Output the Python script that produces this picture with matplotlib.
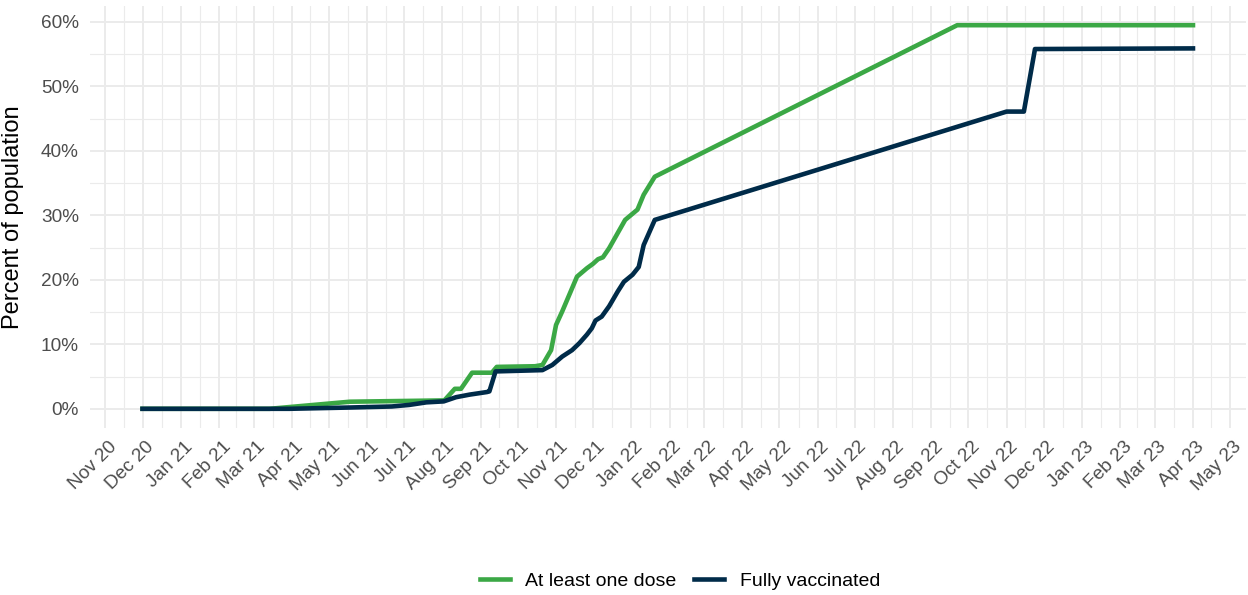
import pandas as pd
import numpy as np
import matplotlib.pyplot as plt
import matplotlib.dates as mdates
import matplotlib.transforms as mtransforms
from matplotlib.ticker import FixedLocator, FuncFormatter

plt.rcParams['font.family'] = ['Liberation Sans', 'DejaVu Sans']

# ----------------- Data -----------------
one_dose_dates = ["2020-12-01", "2021-03-14", "2021-05-18", "2021-08-02", "2021-08-03",
                  "2021-08-11", "2021-08-16", "2021-08-25", "2021-09-10", "2021-09-14",
                  "2021-10-15", "2021-10-21", "2021-10-28", "2021-11-01", "2021-11-06",
                  "2021-11-18", "2021-11-26", "2021-12-01", "2021-12-05", "2021-12-09",
                  "2021-12-14", "2021-12-27", "2022-01-06", "2022-01-11", "2022-01-20",
                  "2022-09-22", "2023-04-01"]
one_dose_pct = [0.0, 0.0, 1.1, 1.3, 1.4,
                3.1, 3.1, 5.6, 5.6, 6.5,
                6.6, 6.8, 9.1, 13.0, 15.1,
                20.5, 21.8, 22.5, 23.2, 23.5,
                24.9, 29.3, 30.9, 33.2, 36.0,
                59.5, 59.5]

full_dates = ["2020-12-01", "2021-03-30", "2021-05-18", "2021-06-21", "2021-07-05",
              "2021-07-19", "2021-08-02", "2021-08-12", "2021-08-23", "2021-09-06",
              "2021-09-08", "2021-09-13", "2021-10-21", "2021-10-23", "2021-10-29",
              "2021-11-06", "2021-11-14", "2021-11-20", "2021-11-26", "2021-11-30",
              "2021-12-03", "2021-12-08", "2021-12-14", "2021-12-21", "2021-12-26",
              "2022-01-02", "2022-01-07", "2022-01-11", "2022-01-20", "2022-11-01",
              "2022-11-15", "2022-11-24", "2023-04-01"]
full_pct = [0.0, 0.0, 0.2, 0.36, 0.6,
            1.0, 1.15, 1.8, 2.2, 2.6,
            2.7, 5.8, 6.0, 6.2, 6.8,
            8.1, 9.1, 10.2, 11.5, 12.5,
            13.7, 14.3, 15.9, 18.2, 19.7,
            20.8, 22.0, 25.4, 29.3, 46.1,
            46.1, 55.8, 55.9]

series_labels = ["At least one dose", "Fully vaccinated"]
series_colors = ["#3BA845", "#002B49"]

# ----------------- Plot -----------------
d1 = pd.to_datetime(one_dose_dates)
d2 = pd.to_datetime(full_dates)

fig = plt.figure(figsize=(12.48, 5.95), dpi=100)
ax = fig.add_axes([0.0721, 0.2807, 0.9259, 0.7092])

ax.plot(d1, one_dose_pct, color=series_colors[0], linewidth=3.3, label=series_labels[0],
        solid_joinstyle='round', zorder=3)
ax.plot(d2, full_pct, color=series_colors[1], linewidth=3.3, label=series_labels[1],
        solid_joinstyle='round', zorder=3)

# ggplot-like 5% expansion
xmin, xmax = min(d1.min(), d2.min()), max(d1.max(), d2.max())
span = xmax - xmin
ax.set_xlim(xmin - span * 0.05, xmax + span * 0.05)
ymax = max(max(one_dose_pct), max(full_pct))
ax.set_ylim(-ymax * 0.05, ymax * 1.05)

# monthly major ticks, mid-month minor gridlines
major = pd.date_range("2020-11-01", "2023-05-01", freq="MS")
major_num = mdates.date2num(major)
minor_num = (major_num[:-1] + major_num[1:]) / 2
ax.xaxis.set_major_locator(FixedLocator(major_num))
ax.xaxis.set_minor_locator(FixedLocator(minor_num))
ax.xaxis.set_major_formatter(mdates.DateFormatter("%b %y"))

ax.yaxis.set_major_locator(FixedLocator(np.arange(0, 61, 10)))
ax.yaxis.set_minor_locator(FixedLocator(np.arange(5, 60, 10)))
ax.yaxis.set_major_formatter(FuncFormatter(lambda v, p: f"{v:.0f}%"))

ax.grid(which='major', color='#EBEBEB', linewidth=1.4)
ax.grid(which='minor', color='#EBEBEB', linewidth=0.8)
ax.set_axisbelow(True)
for s in ax.spines.values():
    s.set_visible(False)

ax.tick_params(which='both', length=0)
ax.tick_params(axis='y', labelsize=13.7, labelcolor='#4D4D4D', pad=8)
ax.tick_params(axis='x', labelsize=13.7, labelcolor='#4D4D4D', pad=6)
shift = mtransforms.ScaledTranslation(3 / 100, -2 / 100, fig.dpi_scale_trans)
for lbl in ax.get_xticklabels():
    lbl.set_rotation(45)
    lbl.set_ha('right')
    lbl.set_va('top')
    lbl.set_rotation_mode('anchor')
    lbl.set_transform(lbl.get_transform() + shift)

ax.set_ylabel("Percent of population", fontsize=17, color='black')
ax.yaxis.set_label_coords(-0.057, 0.5)

fig.legend(loc='center', bbox_to_anchor=(680 / 1248, 1 - 581 / 595), ncol=2, frameon=False,
           fontsize=14, handlelength=1.55, handletextpad=0.8, columnspacing=0.9)

plt.savefig("out.png", dpi=100)
plt.close()
